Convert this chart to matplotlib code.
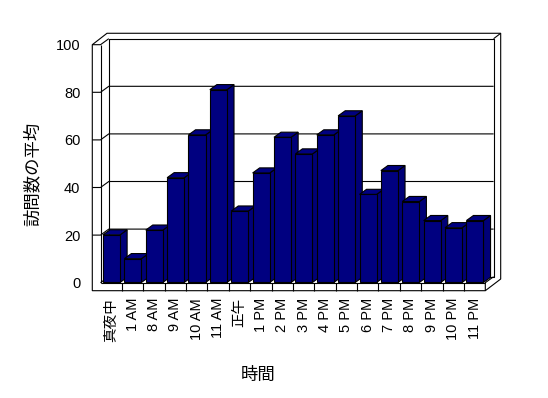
import matplotlib
matplotlib.use("Agg")
import matplotlib.pyplot as plt
import numpy as np

plt.rcParams['font.family'] = ['Liberation Sans', 'Noto Sans CJK JP', 'DejaVu Sans']

categories = ['真夜中', '1 AM', '8 AM', '9 AM', '10 AM', '11 AM', '正午', '1 PM',
              '2 PM', '3 PM', '4 PM', '5 PM', '6 PM', '7 PM', '8 PM', '9 PM',
              '10 PM', '11 PM']
values = [20, 10, 22, 44, 62, 81, 30, 46, 61, 54, 62, 70, 37, 47, 34, 26, 23, 26]
yticks = [0, 20, 40, 60, 80, 100]
xlabel = '時間'
ylabel = '訪問数の平均'

W, H = 548, 398
fig = plt.figure(figsize=(W / 100, H / 100), dpi=100)

# front plane of the plot in pixels
px_left, px_right = 100.5, 485.3
px_y0, px_y100 = 282.7, 44.7
ax = fig.add_axes([px_left / W, 1 - px_y0 / H, (px_right - px_left) / W,
                   (px_y0 - px_y100) / H])
n = len(categories)
ax.set_xlim(0, n)
ax.set_ylim(0, 100)
ax.patch.set_visible(False)
for s in ax.spines.values():
    s.set_visible(False)

lw = 0.8
k = dict(color='black', lw=lw, clip_on=False, solid_capstyle='butt')

# depth vector (data units)
ddx, ddy = 0.388, 2.52
wl = -0.384        # outer left of wall
fb = -3.36         # floor bottom
otop = 104.8       # outer top
oright = 18.72     # outer right

# outer outline of walls and floor
outline = np.array([[wl, fb], [wl, 100], [0.304, otop], [oright, otop],
                    [oright, 1.55], [n, fb]])
ax.fill(outline[:, 0], outline[:, 1], facecolor='white', edgecolor='black',
        lw=lw, clip_on=False, zorder=1)

# inner lines
ax.plot([0, 0], [0, 100], zorder=2, **k)
ax.plot([wl, 0, ddx], [100, 100, 100 + ddy], zorder=2, **k)
ax.plot([ddx, ddx, n + ddx, n + ddx, ddx],
        [ddy, 100 + ddy, 100 + ddy, ddy, ddy], zorder=2, **k)
ax.plot([n + ddx, oright], [100 + ddy, otop], zorder=2, **k)
ax.plot([0, n], [0, 0], zorder=2, **k)
ax.plot([n, n, n + ddx], [fb, 0, ddy], zorder=2, **k)
ax.plot([0, ddx], [0, ddy], zorder=2, **k)
for i in range(1, n):
    ax.plot([i, i], [fb, 0], zorder=2, **k)
for v in yticks[1:-1]:
    ax.plot([wl, 0, ddx, n + ddx], [v, v, v + ddy, v + ddy], zorder=2, **k)

# bars
bw = 0.8
f0x, f0y = 0.04 * ddx, 0.04 * ddy
bdx, bdy = 0.85 * ddx, 0.85 * ddy
x = np.arange(n) + 0.5 + f0x
for i, v in enumerate(values):
    z = 3 + i * 0.01
    xl, xr = x[i] - bw / 2, x[i] + bw / 2
    ax.fill([xr, xr, xr + bdx, xr + bdx], [f0y, f0y + v, f0y + v + bdy, f0y + bdy],
            facecolor='#000078', edgecolor='black', lw=lw, clip_on=False, zorder=z)
    ax.fill([xl, xr, xr + bdx, xl + bdx], [f0y + v, f0y + v, f0y + v + bdy, f0y + v + bdy],
            facecolor='#000080', edgecolor='black', lw=lw, clip_on=False, zorder=z)
    ax.bar(x[i], v, width=bw, bottom=f0y, color='#000080', edgecolor='black',
           lw=lw, clip_on=False, zorder=z + 0.001)

ax.set_yticks(yticks)
ax.set_yticklabels([str(t) for t in yticks], fontsize=10.5)
ax.set_xticks(np.arange(n) + 0.5)
ax.set_xticklabels(categories, rotation=90, fontsize=10.5)
ax.tick_params(axis='y', length=0, pad=14.5)
ax.tick_params(axis='x', length=0, pad=11)

fig.text(258.5 / W, 1 - 375.3 / H, xlabel, ha='center', va='center', fontsize=12.5)
fig.text(32 / W, 1 - 173.7 / H, ylabel, ha='center', va='center', rotation=90,
         fontsize=12.5)

fig.savefig('out.png', dpi=100, facecolor='white')
